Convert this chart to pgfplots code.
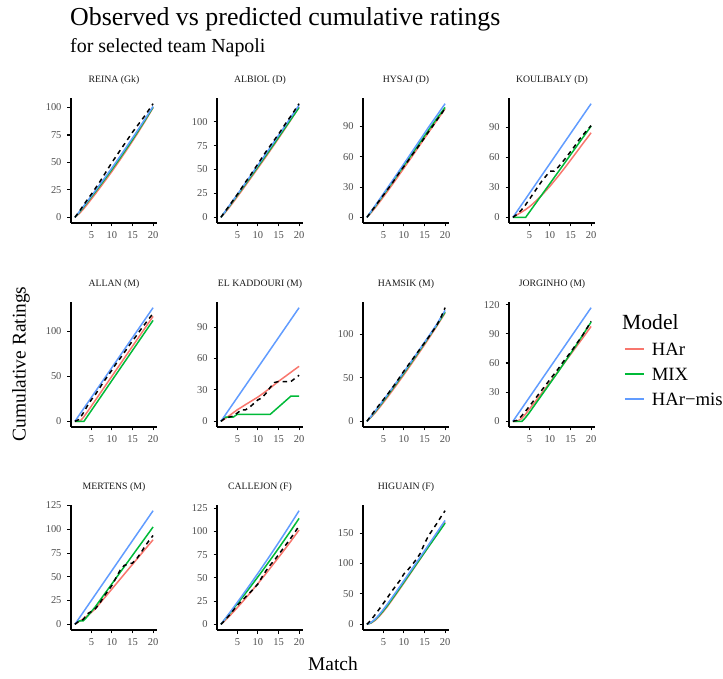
\documentclass[border=0pt]{standalone}
\usepackage{pgfplots}
\pgfplotsset{compat=1.18}
\usepackage{fontspec}
\setmainfont{Liberation Serif}
\definecolor{cHAr}{HTML}{F8766D}
\definecolor{cMIX}{HTML}{00BA38}
\definecolor{cMIS}{HTML}{619CFF}
\definecolor{tickgray}{HTML}{4D4D4D}
\definecolor{stripgray}{HTML}{1A1A1A}
\pgfplotsset{
 panel/.style={
  scale only axis, width=86bp, height=125bp,
  xmin=0.05, xmax=20.95, xtick={5,10,15,20},
  enlarge y limits=0.05,
  axis x line*=bottom, axis y line*=left,
  axis line style={black, line width=1.1bp},
  every tick/.style={black, line width=1.1bp},
  tick align=outside, major tick length=3.5bp,
  /pgf/number format/assume math mode=true,
  ticklabel style={font=\fontsize{10.5}{12}\selectfont, text=tickgray},
  yticklabel style={xshift=-2.5bp},
  xticklabel style={yshift=-1.5bp},
  title style={font=\fontsize{9.8}{11}\selectfont, text=stripgray, at={(0.5,1)}, anchor=base, yshift=10bp},
  anchor=south west,
 },
 obs/.style={black, line width=1.5bp, dash pattern=on 4.5bp off 4bp},
 har/.style={cHAr, line width=1.5bp},
 mix/.style={cMIX, line width=1.5bp},
 mis/.style={cMIS, line width=1.5bp},
}
\begin{document}
\begin{tikzpicture}
\path[use as bounding box] (0,0) rectangle (723bp,679bp);
% ---------- Row 1 ----------
\begin{axis}[panel, at={(71bp,456bp)}, title={REINA (Gk)}, ytick={0,25,50,75,100}]
\addplot[har] coordinates {(1,0)(2,3.2)(3,7.2)(4,11.8)(6,21.5)(8,31.6)(10,41.8)(12,52.6)(14,63.7)(16,75.2)(18,87.2)(20,99.8)};
\addplot[mix] coordinates {(1,0)(2,4.2)(3,8.8)(4,13.6)(6,23.4)(8,33.4)(10,43.6)(12,54.2)(14,65.2)(16,76.5)(18,88.2)(20,100.3)};
\addplot[mis] coordinates {(1,0)(2,4.75)(3,9.56)(4,14.43)(6,24.4)(8,34.6)(10,45)(12,55.7)(14,66.7)(16,77.8)(18,89.3)(20,101)};
\addplot[obs] coordinates {(1,0)(2,5)(3,10.5)(4,16)(5,21)(6,26.5)(7,32)(8,38)(9,44)(10,50)(11,55.5)(12,61)(13,66.5)(14,72)(15,77.5)(16,82.5)(17,87.5)(18,92.5)(19,98)(20,103.5)};
\end{axis}
\begin{axis}[panel, at={(217bp,456bp)}, title={ALBIOL (D)}, ytick={0,25,50,75,100}]
\addplot[har] coordinates {(1,0)(2,4.8)(3,10.2)(4,15.8)(6,27.5)(8,39.5)(10,51.6)(12,63.8)(14,76.3)(16,89)(18,102)(20,115.5)};
\addplot[mix] coordinates {(1,0)(2,5.6)(3,11.3)(4,17.2)(6,29)(8,41)(10,53)(12,65.2)(14,77.5)(16,90)(18,102.5)(20,115)};
\addplot[mis] coordinates {(1,0)(2,6)(3,12)(4,18)(6,30)(8,42.3)(10,54.6)(12,67)(14,79.5)(16,92)(18,104.8)(20,117.5)};
\addplot[obs] coordinates {(1,0)(2,6)(3,12)(4,18)(5,24)(6,30.5)(7,37)(8,43)(9,49.5)(10,56)(11,62.5)(12,69)(13,75)(14,81)(15,87)(16,93.5)(17,100)(18,106)(19,112.5)(20,119)};
\end{axis}
\begin{axis}[panel, at={(363bp,456bp)}, title={HYSAJ (D)}, ytick={0,30,60,90}]
\addplot[har] coordinates {(1,0)(2,4.4)(3,9.4)(4,14.7)(6,25.8)(8,37.2)(10,48.8)(12,60.5)(14,72.4)(16,84.3)(18,96)(20,107.7)};
\addplot[mix] coordinates {(1,0)(2,5.3)(3,10.8)(4,16.5)(6,28)(8,39.6)(10,51.3)(12,63)(14,74.8)(16,86.6)(18,98)(20,109)};
\addplot[mis] coordinates {(1,0)(2,5.8)(3,11.6)(4,17.4)(6,29.2)(8,41.1)(10,53.1)(12,65.2)(14,77.3)(16,89.5)(18,101)(20,112.7)};
\addplot[obs] coordinates {(1,0)(2,5.5)(3,11)(4,16.5)(5,22)(6,27.5)(7,33)(8,39)(9,45)(10,50.5)(11,56)(12,62)(13,67.5)(14,73)(15,79)(16,85)(17,90.5)(18,96.5)(19,102)(20,108)};
\end{axis}
\begin{axis}[panel, at={(509bp,456bp)}, title={KOULIBALY (D)}, ytick={0,30,60,90}]
\addplot[har] coordinates {(1,0)(2,2.5)(3,5)(4,7.5)(5,10.5)(6,14)(8,22)(10,31)(12,41)(14,51.5)(16,62.5)(18,73.5)(20,84.4)};
\addplot[mix] coordinates {(1,0)(4.1,0)(20,91)};
\addplot[mis] coordinates {(1,0)(20,113.4)};
\addplot[obs] coordinates {(1,0)(2,3)(3,7)(4,12)(5,18)(6,24)(7,30)(8,36)(9,41)(10,46)(11,46)(12,50)(13,55)(14,60)(15,65.5)(16,71)(17,77)(18,82)(19,87)(20,91.5)};
\end{axis}
% ---------- Row 2 ----------
\begin{axis}[panel, at={(71bp,252bp)}, title={ALLAN (M)}, ytick={0,50,100}]
\addplot[har] coordinates {(1,0)(2.2,0)(3,4)(4,10.3)(20,116.7)};
\addplot[mix] coordinates {(1,0)(3.2,0)(20,112.2)};
\addplot[mis] coordinates {(1,0)(20,126.3)};
\addplot[obs] coordinates {(1,0)(2,2)(3,9)(4,17)(5,24)(6,30)(7,37)(8,44)(9,50.5)(10,57)(11,64)(12,70)(13,76.5)(14,83)(15,89.5)(16,95.5)(17,102)(18,108)(19,114)(20,120)};
\end{axis}
\begin{axis}[panel, at={(217bp,252bp)}, title={EL KADDOURI (M)}, ytick={0,30,60,90}]
\addplot[har] coordinates {(1,0)(2,2.5)(3,5.3)(4,8.2)(5,11.1)(6,13.5)(7,16)(8,18.4)(9,20.8)(10,23.2)(11,26)(12,28.9)(13,31.9)(14,35)(15,38.2)(16,41)(17,43.9)(18,46.8)(19,49.7)(20,52.5)};
\addplot[mix] coordinates {(1,0)(2,4)(4,4)(5,6.7)(13,6.7)(18,24)(20,24)};
\addplot[mis] coordinates {(1,0)(20,108.5)};
\addplot[obs] coordinates {(1,0)(2,3)(3,4)(4,5)(5,8)(6,11)(7,11)(8,13.5)(9,17)(10,20.5)(11,22.5)(12,27)(13,32.5)(14,37)(15,38)(16,38)(17,38)(18,38)(19,41)(20,44)};
\end{axis}
\begin{axis}[panel, at={(363bp,252bp)}, title={HAMSIK (M)}, ytick={0,50,100}]
\addplot[har] coordinates {(1,0)(2,4.5)(3,9.8)(4,15.5)(6,27.8)(8,40.6)(10,53.8)(12,67.4)(14,81.2)(16,95.3)(18,109.8)(20,125)};
\addplot[mix] coordinates {(1,0)(2,5.3)(3,11)(4,17)(6,29.6)(8,42.5)(10,55.7)(12,69.2)(14,83)(16,97)(18,111)(20,126)};
\addplot[mis] coordinates {(1,0)(2,5.8)(3,11.8)(4,18)(6,30.8)(8,43.8)(10,57)(12,70.5)(14,84.2)(16,98)(18,112)(20,128)};
\addplot[obs] coordinates {(1,0)(2,6.5)(3,13)(4,19)(5,25)(6,31)(7,37.5)(8,44)(9,51)(10,58)(11,64.5)(12,71)(13,77.5)(14,84)(15,90.5)(16,97)(17,104)(18,111)(19,120)(20,131)};
\end{axis}
\begin{axis}[panel, at={(509bp,252bp)}, title={JORGINHO (M)}, ytick={0,30,60,90,120},
  legend style={at={(axis description cs:1.337,0.682)}, anchor=north west, draw=none, fill=none,
    inner sep=0pt, outer sep=0pt, row sep=7bp, column sep=7bp,
    font=\fontsize{18.8}{22}\selectfont,
    nodes={inner sep=0pt, text height=14bp, text depth=4bp}, cells={anchor=base west}},
  legend image code/.code={\draw[#1] (0bp,6.4bp) -- (19bp,6.4bp);}]
\addlegendimage{color=cHAr, line width=1.8bp}
\addlegendentry{HAr}
\addlegendimage{color=cMIX, line width=1.8bp}
\addlegendentry{MIX}
\addlegendimage{color=cMIS, line width=1.8bp}
\addlegendentry{HAr−mis}
\addplot[har, forget plot] coordinates {(1,0)(2,0)(3,2.5)(4,7)(5,12.5)(6,18)(8,29)(10,40)(12,51.5)(14,63)(16,74.5)(18,86)(20,97.7)};
\addplot[mix, forget plot] coordinates {(1,0)(3.2,0)(4,3.5)(5,9)(6,15)(8,27)(10,39)(12,51)(14,63.5)(16,76)(18,89)(20,102.2)};
\addplot[mis, forget plot] coordinates {(1,0)(20,117)};
\addplot[obs, forget plot] coordinates {(1,0)(2,1)(3,5)(4,10)(5,15.5)(6,21)(7,26.5)(8,32)(9,37.5)(10,43)(11,48.5)(12,54)(13,60)(14,65.5)(15,71)(16,77)(17,83)(18,89)(19,96)(20,103)};
\end{axis}
% ---------- Row 3 ----------
\begin{axis}[panel, at={(71bp,49bp)}, title={MERTENS (M)}, ytick={0,25,50,75,100,125}]
\addplot[har] coordinates {(1,0)(2,3)(3,5.5)(4,9)(5,12.5)(6,16.5)(8,26.9)(10,37.2)(12,47.6)(14,58)(16,68.3)(18,78.7)(20,89)};
\addplot[mix] coordinates {(1,0)(2,3.5)(3,3.5)(4,8.1)(6,18.7)(8,30.7)(10,42.7)(12,54.7)(14,66.6)(16,78.6)(18,90.5)(20,102.5)};
\addplot[mis] coordinates {(1,0)(20,119.6)};
\addplot[obs] coordinates {(1,0)(2,3.5)(3,5)(4,11)(5,13.5)(6,16.5)(7,22)(8,29)(9,35)(10,41)(11,49)(12,57)(13,62)(14,63.5)(15,64.5)(16,69)(17,75)(18,82)(19,88)(20,93.5)};
\end{axis}
\begin{axis}[panel, at={(217bp,49bp)}, title={CALLEJON (F)}, ytick={0,25,50,75,100,125}]
\addplot[har] coordinates {(1,0)(2,4)(3,8.5)(4,13.2)(6,23)(8,33.3)(10,44)(12,55)(14,66.4)(16,77.8)(18,89.6)(20,101.7)};
\addplot[mix] coordinates {(1,0)(2,5.4)(3,10.9)(4,16.5)(6,27.8)(8,39.4)(10,51.2)(12,63.3)(14,75.6)(16,88.2)(18,101)(20,114.2)};
\addplot[mis] coordinates {(1,0)(2,5.84)(3,11.76)(4,17.7)(6,29.9)(8,42.3)(10,55)(12,68)(14,81.2)(16,94.7)(18,108.5)(20,122.5)};
\addplot[obs] coordinates {(1,0)(2,4.5)(3,9.5)(4,15)(5,20.5)(6,25)(7,29.5)(8,34)(9,38.5)(10,43.5)(11,51)(12,58)(13,64)(14,69)(15,75)(16,81)(17,87)(18,93)(19,99.5)(20,106)};
\end{axis}
\begin{axis}[panel, at={(363bp,49bp)}, title={HIGUAIN (F)}, ytick={0,50,100,150}]
\addplot[har] coordinates {(1,0)(2,2)(3,6.5)(4,13)(5,21)(6,29.5)(8,48.5)(10,68)(12,88)(14,108)(16,128)(18,148)(20,168)};
\addplot[mix] coordinates {(1,0)(2,2.5)(3,7.5)(4,14.5)(5,22.5)(6,31)(8,50)(10,69.5)(12,89)(14,108.5)(16,128)(18,147)(20,166.5)};
\addplot[mis] coordinates {(1,0)(2,3)(3,8.5)(4,16)(5,24.5)(6,33.5)(8,52.5)(10,72)(12,91.5)(14,111)(16,131)(18,151)(20,171)};
\addplot[obs] coordinates {(1,0)(2,7)(3,16)(4,25)(5,34.5)(6,44)(7,54)(8,63)(9,72)(10,83)(11,90)(12,98)(13,107)(14,117)(15,133)(16,146)(17,156)(18,166)(19,177)(20,187)};
\end{axis}
% ---------- Titles and labels ----------
\node[anchor=base west, inner sep=0pt, font=\fontsize{26}{30}\selectfont] at (70bp,653bp) {Observed vs predicted cumulative ratings};
\node[anchor=base west, inner sep=0pt, font=\fontsize{20}{24}\selectfont] at (70bp,626bp) {for selected team Napoli};
\node[rotate=90, inner sep=0pt, font=\fontsize{19.5}{22}\selectfont] at (21bp,315bp) {Cumulative Ratings};
\node[anchor=base, inner sep=0pt, font=\fontsize{19.5}{22}\selectfont] at (333bp,9bp) {Match};
\node[anchor=base west, inner sep=0pt, font=\fontsize{21.7}{25}\selectfont] at (622bp,349bp) {Model};
\end{tikzpicture}
\end{document}
